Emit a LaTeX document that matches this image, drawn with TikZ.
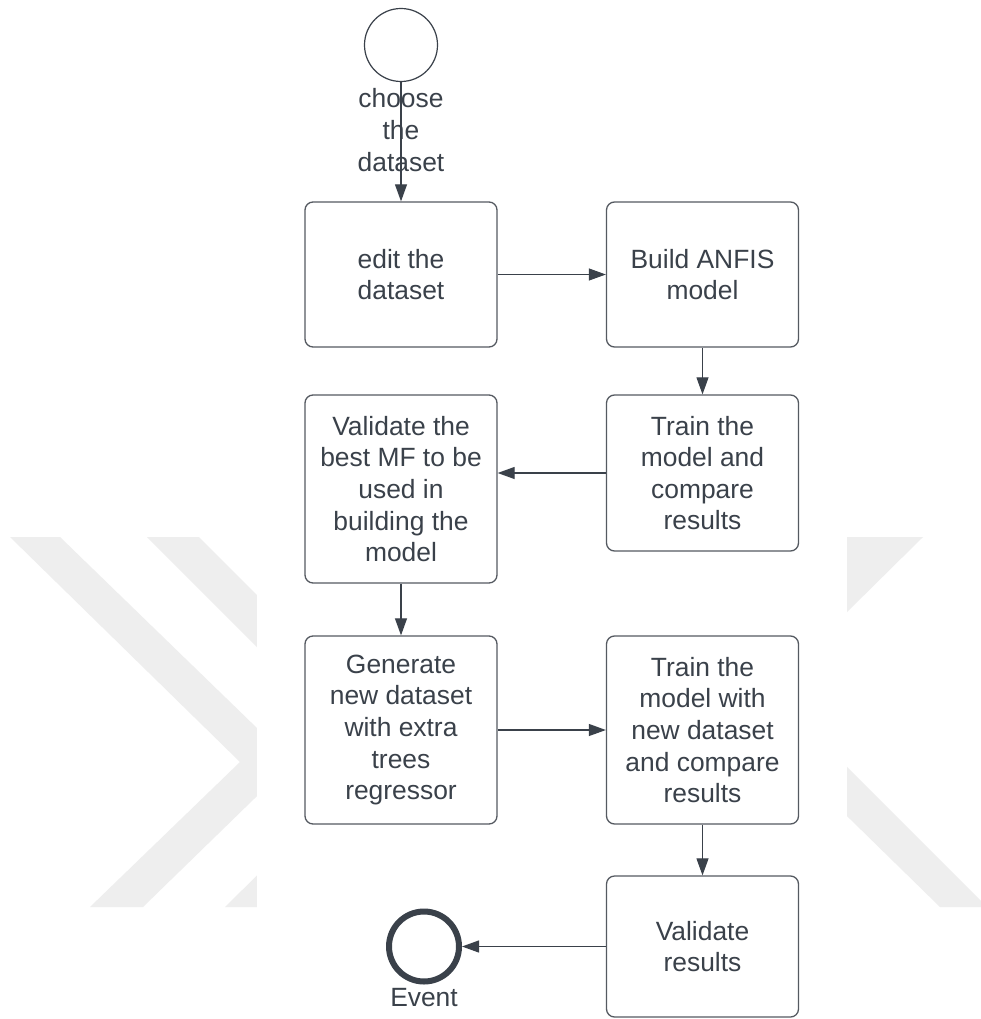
\documentclass[tikz,border=0pt]{standalone}
\usepackage{fontspec}
\setmainfont{Liberation Sans}
\usetikzlibrary{arrows.meta}
\definecolor{ink}{HTML}{3A414A}
\definecolor{frame}{HTML}{555A61}
\definecolor{wmgrey}{HTML}{EEEEEE}
\begin{document}
\begin{tikzpicture}[x=1pt,y=-1pt,
  txt/.style={text=ink, align=center, font=\fontsize{26.4}{31.6}\selectfont},
  stepbox/.style={txt, draw=frame, line width=1.3pt, rounded corners=8pt,
    minimum width=192pt, inner sep=0pt},
  lbl/.style={txt, inner sep=0pt},
  flow/.style={draw=ink, line width=1.1pt, -{Triangle[length=17pt,width=12pt]}}]
\useasboundingbox (0,0) rectangle (981,1019);
\fill[white] (0,0) rectangle (981,1019);

% faint chevron watermark behind the chart
\begin{scope}
  \clip (0,537) rectangle (981,907);
  \fill[wmgrey] (10,537) -- (60,537) -- (292,762) -- (143,907) -- (90,907) -- (240,762) -- cycle;
  \fill[wmgrey] (147,537) -- (199,537) -- (424,762) -- (277,907) -- (225,907) -- (372,762) -- cycle;
  \fill[wmgrey] (845,537) -- (923,537) -- (769,689) -- (987,907) -- (940,907) -- (716,688) -- cycle;
\end{scope}
\fill[white] (257,0) rectangle (847,1019);

% events
\node[circle, draw=ink, line width=1.2pt, minimum size=73pt, inner sep=0pt] (start) at (401,45) {};
\node[lbl] (startlbl) at (401,130) {choose\\the\\dataset};
\node[circle, draw=ink, line width=6pt, minimum size=70pt, inner sep=0pt] (end) at (424,946.5) {};
\node[lbl] (endlbl) at (424,998) {Event};

% process steps
\node[stepbox, minimum height=145pt] (edit) at (401,274.5) {edit the\\dataset};
\node[stepbox, minimum height=145pt] (build) at (702.5,274.5) {Build ANFIS\\model};
\node[stepbox, minimum height=156pt] (train) at (702.5,473) {Train the\\model and\\compare\\results};
\node[stepbox, minimum height=188pt] (mf) at (401,489) {Validate the\\best MF to be\\used in\\building the\\model};
\node[stepbox, minimum height=188pt] (gen) at (401,730) {Generate\\new dataset\\with extra\\trees\\regressor};
\node[stepbox, minimum height=188pt] (retrain) at (702.5,730) {Train the\\model with\\new dataset\\and compare\\results};
\node[stepbox, minimum height=141pt] (check) at (702.5,946.5) {Validate\\results};

% connectors
\draw[flow] (start.south) -- (edit.north);
\draw[flow] (edit.east) -- (build.west);
\draw[flow] (build.south) -- (train.north);
\draw[flow] (train.west) -- (train.west -| mf.east);
\draw[flow] (mf.south) -- (gen.north);
\draw[flow] (gen.east) -- (retrain.west);
\draw[flow] (retrain.south) -- (check.north);
\draw[flow] (check.west) -- (end.east);
\end{tikzpicture}
\end{document}
